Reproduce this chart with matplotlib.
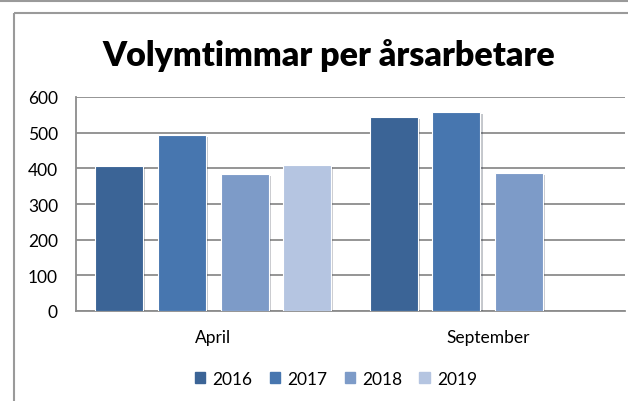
import matplotlib
matplotlib.use("Agg")
import matplotlib.pyplot as plt
import matplotlib.patheffects as pe
from matplotlib.lines import Line2D
import numpy as np

categories = ["April", "September"]
years = ["2016", "2017", "2018", "2019"]
values_2016 = [406, 545]
values_2017 = [494, 557]
values_2018 = [384, 386]
values_2019 = [409, None]
series = [values_2016, values_2017, values_2018, values_2019]
colors = ["#3B6496", "#4776AF", "#7D9BC8", "#B5C5E1"]

W, H = 628, 402
fig = plt.figure(figsize=(W / 100, H / 100), dpi=100)
plt.rcParams['font.family'] = ['Lato', 'DejaVu Sans']

# outer lines
fig.add_artist(Line2D([0, 1.01], [1 - 1.5 / H, 1 - 1.5 / H], color="#9a9a9a", lw=1.5,
                      transform=fig.transFigure, solid_capstyle="butt"))
fig.add_artist(Line2D([14 / W, 14 / W], [-0.01, 1 - 14 / H], color="#9a9a9a", lw=1.5,
                      transform=fig.transFigure, solid_capstyle="butt"))
fig.add_artist(Line2D([14 / W, 1.01], [1 - 14 / H, 1 - 14 / H], color="#9a9a9a", lw=1.5,
                      transform=fig.transFigure, solid_capstyle="butt"))

ax = fig.add_axes([76 / W, (H - 312) / H, 549 / W, 214 / H])
x = np.arange(len(categories))
step = 0.228
width = 0.175
shadow = [pe.SimplePatchShadow(offset=(1.5, -1.5), alpha=0.25), pe.Normal()]
for i, (vals, c, yr) in enumerate(zip(series, colors, years)):
    xs = [xi + (i - 1.5) * step for xi, v in zip(x, vals) if v is not None]
    vs = [v for v in vals if v is not None]
    bars = ax.bar(xs, vs, width=width, color=c, edgecolor="white", linewidth=0.8,
                  label=yr, zorder=3)
    for b in bars:
        b.set_path_effects(shadow)

ax.set_xlim(-0.5, 1.5)
ax.set_ylim(0, 600)
ax.set_yticks(range(0, 601, 100))
ax.set_xticks(x)
ax.set_xticklabels(categories, fontsize=12.5)
ax.tick_params(axis='y', length=0, pad=13, labelsize=12.5)
ax.tick_params(axis='x', length=0, pad=13)
ax.yaxis.grid(True, color="#8c8c8c", lw=1.3, zorder=0)
ax.set_axisbelow(True)
for s in ["top", "right"]:
    ax.spines[s].set_visible(False)
ax.spines["left"].set_color("#8c8c8c")
ax.spines["bottom"].set_color("#8c8c8c")
ax.spines["left"].set_linewidth(1.3)
ax.spines["bottom"].set_linewidth(1.3)

fig.text(329 / W, 1 - 55 / H, "Volymtimmar per årsarbetare", ha="center", va="center",
         fontsize=24.5, fontweight="heavy")

handles = [plt.Rectangle((0, 0), 1, 1, color=c) for c in colors]
fig.legend(handles, years, loc="center", bbox_to_anchor=(336 / W, 1 - 380 / H), ncol=4,
           frameon=False, fontsize=12.5, handlelength=0.6, handleheight=0.6,
           handletextpad=0.4, columnspacing=1.0)

fig.savefig("out.png", dpi=100)
